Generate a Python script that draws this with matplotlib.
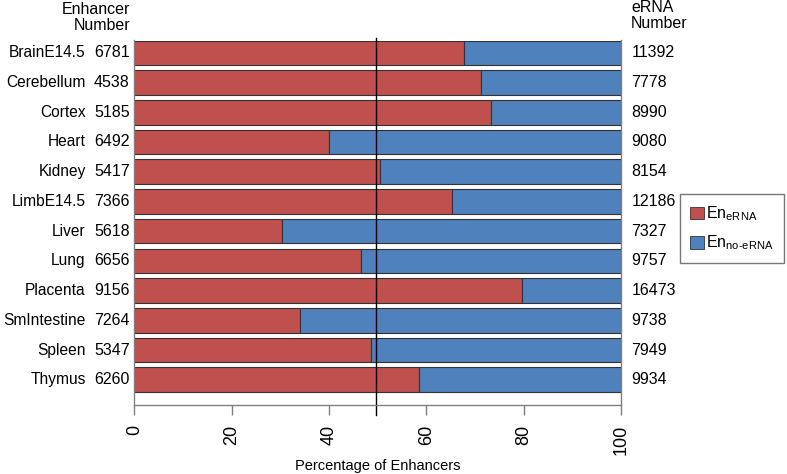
import numpy as np
import matplotlib
matplotlib.use('Agg')
import matplotlib.pyplot as plt
from matplotlib.patches import Patch

plt.rcParams['font.family'] = ['Liberation Sans', 'DejaVu Sans']
plt.rcParams['mathtext.fontset'] = 'custom'
plt.rcParams['mathtext.rm'] = 'Liberation Sans'
plt.rcParams['mathtext.it'] = 'Liberation Sans'

# 数据
tissues = ['BrainE14.5', 'Cerebellum', 'Cortex', 'Heart', 'Kidney', 'LimbE14.5',
           'Liver', 'Lung', 'Placenta', 'SmIntestine', 'Spleen', 'Thymus']
enhancer_number = [6781, 4538, 5185, 6492, 5417, 7366, 5618, 6656, 9156, 7264, 5347, 6260]
erna_number = [11392, 7778, 8990, 9080, 8154, 12186, 7327, 9757, 16473, 9738, 7949, 9934]
pct_erna = [67.8, 71.2, 73.2, 39.9, 50.4, 65.3, 30.4, 46.6, 79.7, 34.1, 48.6, 58.6]
mean_line = 49.7
xticks = [0, 20, 40, 60, 80, 100]

red = '#C0504D'
blue = '#4F81BD'
fs = 11.5

fig = plt.figure(figsize=(7.87, 4.74), dpi=100)
ax = fig.add_axes([134.4 / 787, 1 - 405 / 474, 486.5 / 787, 364.5 / 474])

y = np.arange(len(tissues))
pct_erna = np.array(pct_erna)
ax.barh(y, pct_erna, height=0.83, color=red, edgecolor='#333333', linewidth=0.8)
ax.barh(y, 100 - pct_erna, left=pct_erna, height=0.83, color=blue,
        edgecolor='#333333', linewidth=0.8)

ax.set_xlim(0, 100)
ax.set_ylim(11.85, -0.415)
ax.set_yticks([])
ax.set_xticks(xticks)
ax.set_xticklabels([str(t) for t in xticks], rotation=90, fontsize=13)
ax.tick_params(axis='x', length=7, width=1, color='#808080', pad=7)
ax.spines['top'].set_visible(False)
for s in ['left', 'right', 'bottom']:
    ax.spines[s].set_color('#808080')
    ax.spines[s].set_linewidth(1)
ax.set_xlabel('Percentage of Enhancers', fontsize=10.5, labelpad=3)

# 平均线
ax.plot([mean_line, mean_line], [-0.5, 12.2], color='black', linewidth=1, clip_on=False)

# 左右两侧标签
tr = ax.get_yaxis_transform()
for i in range(len(tissues)):
    ax.text(-0.1, y[i], tissues[i], transform=tr, ha='right', va='center', fontsize=11.2)
    ax.text(-0.010, y[i], str(enhancer_number[i]), transform=tr, ha='right', va='center', fontsize=fs)
    ax.text(1.022, y[i], str(erna_number[i]), transform=tr, ha='left', va='center', fontsize=fs)

fig.text(130 / 787, 1 - 2 / 474, 'Enhancer\nNumber', ha='right', va='top', fontsize=fs, linespacing=1.05)
fig.text(631 / 787, 1 - 0 / 474, 'eRNA\nNumber', ha='left', va='top', fontsize=fs, linespacing=1.05)

# 图例
handles = [Patch(facecolor=red, edgecolor='#333333', linewidth=0.6),
           Patch(facecolor=blue, edgecolor='#333333', linewidth=0.6)]
labels = [r'En$_{\mathrm{eRNA}}$', r'En$_{\mathrm{no\text{-}eRNA}}$']
leg = fig.legend(handles, labels, loc='center', bbox_to_anchor=(732 / 787, 1 - 228.5 / 474),
                 fontsize=fs, frameon=True, fancybox=False, handlelength=0.85, handleheight=0.85,
                 handletextpad=0.15, borderpad=0.65, labelspacing=0.65, borderaxespad=0)
leg.get_frame().set_edgecolor('#555555')
leg.get_frame().set_linewidth(1)

fig.savefig('out.png', dpi=100)
